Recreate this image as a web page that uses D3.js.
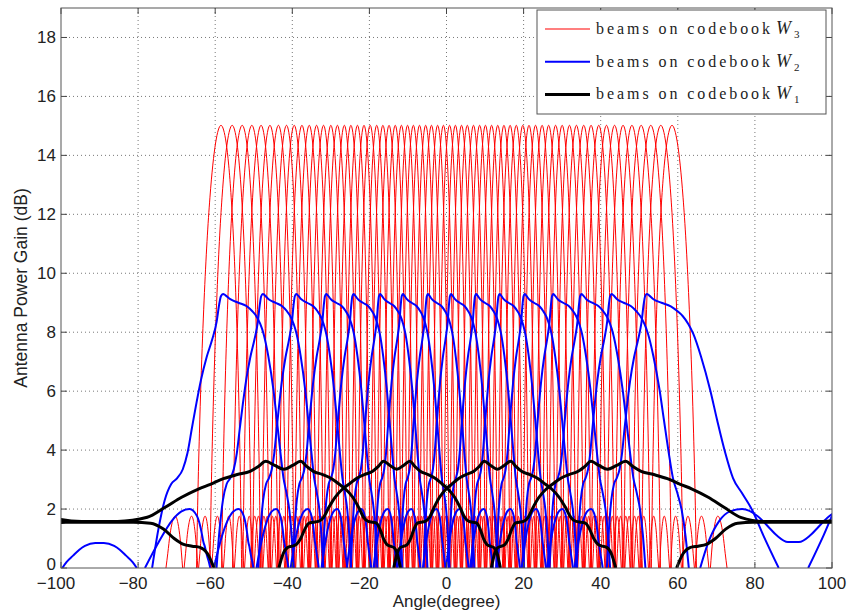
<!DOCTYPE html>
<html>
<head>
<meta charset="utf-8">
<script src="https://cdn.jsdelivr.net/npm/d3@7"></script>
<style>
    body { margin: 0; background: #fff; }
    svg { display: block; }
    text { font-family: "Liberation Sans", Arial, sans-serif; fill: #222; }
</style>
</head>
<body>
<script>
const width = 850, height = 610;
const plot = {left: 61, right: 832, top: 8, bottom: 568}; // axes box in px

// tick values of both axes
const xTicks = [-100, -80, -60, -40, -20, 0, 20, 40, 60, 80, 100];
const yTicks = [0, 2, 4, 6, 8, 10, 12, 14, 16, 18];

// legend rows (codebook index of each)
const legendText = ["beams on codebook", "beams on codebook", "beams on codebook"];
const legendIndex = ["3", "2", "1"];
const legendColor = ["#ff0000", "#0000ff", "#000000"];

// peak angles (degree) of the 64 beams of W3
const redPeaks = [-58.5, -55.6, -53.0, -50.5, -48.1, -45.8, -43.6, -41.5, -39.5, -37.5, -35.6, -33.7,
    -31.9, -30.0, -28.3, -26.5, -24.8, -23.1, -21.4, -19.8, -18.1, -16.5, -14.9, -13.3, -11.7, -10.1,
    -8.6, -7.0, -5.4, -3.9, -2.3, -0.8, 0.8, 2.3, 3.9, 5.4, 7.0, 8.6, 10.1, 11.7, 13.3, 14.9, 16.5,
    18.1, 19.8, 21.4, 23.1, 24.8, 26.5, 28.3, 30.0, 31.9, 33.7, 35.6, 37.5, 39.5, 41.5, 43.6, 45.8,
    48.1, 50.5, 53.0, 55.6, 58.5];
// angle of the sharp left peak of each of the 16 beams of W2
const bluePeaks = [-58.3, -47.9, -39.2, -31.4, -24.3, -17.4, -11.5, -5.0, 1.0, 7.5, 13.6, 20.1, 27.5, 34.8, 42.6, 51.7];
// angle of the dip in the middle of each of the 4 beams of W1
const blackCentres = [-42.2, -12.9, 13.2, 41.8];

// beam shapes: [offset in sin(angle) from the beam's reference, gain dB]
const redProfile = [
    [-0.1025, 0], [-0.100, 0.5], [-0.0969, 1.14], [-0.0938, 1.54], [-0.0894, 1.76], [-0.085, 1.52], [-0.0813, 0.95], [-0.0775, 0],
    [-0.0525, 0], [-0.050, 2.38], [-0.0469, 4.55], [-0.0438, 6.31], [-0.0406, 7.8], [-0.0375, 9.06], [-0.0313, 11.08],
    [-0.025, 12.58], [-0.0188, 13.67], [-0.0125, 14.42], [-0.0063, 14.86], [0, 15.02],
    [0.0063, 14.86], [0.0125, 14.42], [0.0188, 13.67], [0.025, 12.58], [0.0313, 11.08], [0.0375, 9.06],
    [0.0406, 7.8], [0.0438, 6.31], [0.0469, 4.55], [0.050, 2.38], [0.0525, 0],
    [0.0775, 0], [0.0813, 0.95], [0.085, 1.52], [0.0894, 1.76], [0.0938, 1.54], [0.0969, 1.14], [0.100, 0.5], [0.1025, 0]
];
const blueProfile = [
    [-0.237, 0], [-0.222, 0.9], [-0.205, 1.6], [-0.19, 1.92], [-0.176, 2.0], [-0.162, 1.75], [-0.155, 1.35],
    [-0.152, 1.1], [-0.1495, 0.88], [-0.149, 0.85], [-0.147, 0.75], [-0.145, 0.62], [-0.142, 0.42], [-0.138, 0.2], [-0.135, 0],
    [-0.121, 0], [-0.114, 1.3], [-0.106, 2.3], [-0.097, 2.85], [-0.088, 3.05], [-0.079, 3.35], [-0.071, 3.9],
    [-0.063, 4.75], [-0.055, 5.55], [-0.046, 6.35], [-0.034, 7.15], [-0.022, 7.75], [-0.012, 8.35], [-0.006, 8.95],
    [-0.002, 9.22], [0.003, 9.3], [0.009, 9.25], [0.021, 9.12], [0.042, 9.0], [0.065, 8.88], [0.080, 8.72], [0.092, 8.55],
    [0.104, 8.28], [0.114, 7.95], [0.129, 7.17], [0.145, 6.04], [0.156, 5.03], [0.168, 3.9], [0.178, 3.05], [0.188, 2.55],
    [0.198, 1.95], [0.206, 1.1], [0.213, 0]
];
const blackProfile = [
    [-0.465, 0], [-0.45, 0.5], [-0.435, 0.7], [-0.42, 0.74], [-0.405, 0.8], [-0.39, 1.0], [-0.375, 1.32], [-0.36, 1.52],
    [-0.345, 1.55], [-0.325, 1.58], [-0.305, 1.72], [-0.285, 2.05], [-0.26, 2.4], [-0.23, 2.68], [-0.205, 2.84],
    [-0.175, 3.03], [-0.14, 3.17], [-0.105, 3.28], [-0.08, 3.45], [-0.058, 3.62], [-0.03, 3.48], [0, 3.35],
    [0.03, 3.48], [0.058, 3.62], [0.08, 3.45], [0.105, 3.28], [0.14, 3.17], [0.175, 3.03], [0.205, 2.84],
    [0.23, 2.68], [0.26, 2.4], [0.285, 2.05], [0.305, 1.72], [0.325, 1.58], [0.345, 1.55], [0.36, 1.52],
    [0.375, 1.32], [0.39, 1.0], [0.405, 0.8], [0.42, 0.74], [0.435, 0.7], [0.45, 0.5], [0.465, 0]
];

const svg = d3.select("body").append("svg")
    .attr("width", width)
    .attr("height", height);

const x = d3.scaleLinear().domain([-100, 100]).range([plot.left, plot.right]);
const y = d3.scaleLinear().domain([0, 19]).range([plot.bottom, plot.top]);

svg.append("defs").append("clipPath").attr("id", "clip")
    .append("rect")
    .attr("x", plot.left).attr("y", plot.top)
    .attr("width", plot.right - plot.left).attr("height", plot.bottom - plot.top);

// dotted grid
const grid = svg.append("g");
grid.selectAll(".gx").data(xTicks.slice(1, -1)).enter().append("line")
    .attr("x1", d => x(d)).attr("x2", d => x(d))
    .attr("y1", plot.top).attr("y2", plot.bottom)
    .style("stroke", "#555").style("stroke-width", 0.8).style("stroke-dasharray", "1,3");
grid.selectAll(".gy").data(yTicks.slice(1)).enter().append("line")
    .attr("x1", plot.left).attr("x2", plot.right)
    .attr("y1", d => y(d)).attr("y2", d => y(d))
    .style("stroke", "#555").style("stroke-width", 0.8).style("stroke-dasharray", "1,3");

// a beam pattern is a function of sin(angle): place the profile points at the beam,
// wrap round u = +-1 and mirror them past +-90 degrees
const toRad = Math.PI / 180;
function beamSegments(refDeg, profile) {
    const c = Math.sin(refDeg * toRad);
    let pts = [];
    profile.forEach(([d, v]) => {
        [-2, 0, 2].forEach(k => {
            const u = c + d + k;
            if (u < -1 || u > 1) return;
            const a = Math.asin(u) / toRad;
            pts.push([a, v]);
            const m = (u >= 0 ? 180 : -180) - a;
            if (Math.abs(m) < 130 && Math.abs(m - a) > 1e-6) pts.push([m, v]);
        });
    });
    pts.sort((p, q) => p[0] - q[0]);
    const segs = [];
    let cur = [];
    pts.forEach(p => {
        const last = cur[cur.length - 1];
        if (last && p[0] - last[0] < 1e-6) return;
        if (last && last[1] <= 0 && p[1] <= 0) { // both below the axis: the line leaves the plot
            segs.push(cur);
            cur = [];
        }
        cur.push(p);
    });
    if (cur.length) segs.push(cur);
    return segs.filter(s => s.length > 1);
}

const line = d3.line()
    .x(d => x(d[0]))
    .y(d => y(d[1]))
    .curve(d3.curveMonotoneX);

const curves = svg.append("g").attr("clip-path", "url(#clip)");

function drawBeams(refs, profile, color, w) {
    const g = curves.append("g");
    refs.forEach(r => {
        beamSegments(r, profile).forEach(seg => {
            g.append("path")
                .attr("d", line(seg))
                .style("fill", "none")
                .style("stroke", color)
                .style("stroke-width", w)
                .style("stroke-linejoin", "round");
        });
    });
}

drawBeams(redPeaks, redProfile, "#ff0000", 1);
drawBeams(bluePeaks, blueProfile, "#0000ff", 2);
drawBeams(blackCentres, blackProfile, "#000000", 3);

// axes box with inner ticks on all sides
const axes = svg.append("g");
const tickLen = 6;
xTicks.forEach(t => {
    axes.append("line").attr("x1", x(t)).attr("x2", x(t)).attr("y1", plot.bottom).attr("y2", plot.bottom - tickLen);
    axes.append("line").attr("x1", x(t)).attr("x2", x(t)).attr("y1", plot.top).attr("y2", plot.top + tickLen);
    axes.append("text")
        .attr("x", x(t) + (t < 0 ? -5 : 0))
        .attr("y", 589)
        .attr("text-anchor", "middle")
        .style("font-size", "17px")
        .text(t < 0 ? "\u2212" + Math.abs(t) : t);
});
yTicks.forEach(t => {
    axes.append("line").attr("x1", plot.left).attr("x2", plot.left + tickLen).attr("y1", y(t)).attr("y2", y(t));
    axes.append("line").attr("x1", plot.right).attr("x2", plot.right - tickLen).attr("y1", y(t)).attr("y2", y(t));
    axes.append("text")
        .attr("x", 56)
        .attr("y", t === 0 ? 569.5 : y(t))
        .attr("dy", t === 0 ? 0 : "0.34em")
        .attr("text-anchor", "end")
        .style("font-size", "17px")
        .text(t);
});
axes.selectAll("line").style("stroke", "#444").style("stroke-width", 1);
axes.append("rect")
    .attr("x", plot.left).attr("y", plot.top)
    .attr("width", plot.right - plot.left).attr("height", plot.bottom - plot.top)
    .style("fill", "none").style("stroke", "#555").style("stroke-width", 1);

svg.append("text")
    .attr("x", (plot.left + plot.right) / 2)
    .attr("y", 607)
    .attr("text-anchor", "middle")
    .style("font-size", "17px")
    .text("Angle(degree)");

svg.append("text")
    .attr("transform", "translate(27," + ((plot.top + plot.bottom) / 2) + ") rotate(-90)")
    .attr("text-anchor", "middle")
    .style("font-size", "17.5px")
    .text("Antenna Power Gain (dB)");

// legend
const legend = svg.append("g");
legend.append("rect")
    .attr("x", 537).attr("y", 10).attr("width", 289).attr("height", 104)
    .style("fill", "#fff").style("stroke", "#555").style("stroke-width", 1);
const legendWidths = [1.2, 2, 3];
legendText.forEach((txt, i) => {
    const cy = 29 + i * 32.7;
    legend.append("line")
        .attr("x1", 545).attr("x2", 590).attr("y1", cy).attr("y2", cy)
        .style("stroke", legendColor[i]).style("stroke-width", legendWidths[i]);
    const t = legend.append("text")
        .attr("y", cy + 5)
        .style("font-family", "'Liberation Serif', 'DejaVu Serif', serif")
        .style("font-size", "16px");
    t.append("tspan")
        .attr("x", 596)
        .attr("textLength", 174)
        .attr("lengthAdjust", "spacing")
        .text(txt);
    t.append("tspan")
        .attr("x", 776)
        .style("font-style", "italic")
        .style("font-size", "18px")
        .text("W");
    t.append("tspan")
        .attr("x", 794)
        .attr("dy", 4)
        .style("font-size", "11px")
        .text(legendIndex[i]);
});
</script>
</body>
</html>
